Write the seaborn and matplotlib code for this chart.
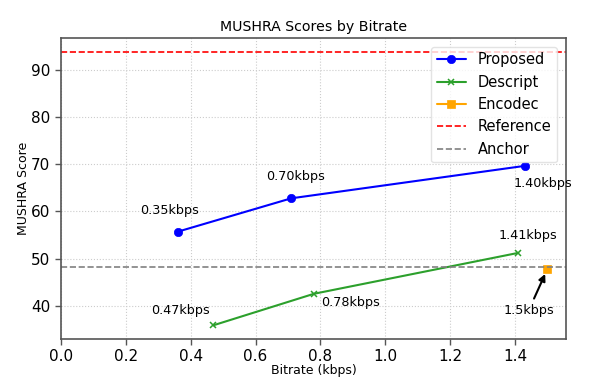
import matplotlib
matplotlib.use("Agg")
import matplotlib.pyplot as plt
import seaborn as sns
import pandas as pd

proposed_x = [0.36, 0.71, 1.43]
proposed_y = [55.7, 62.8, 69.7]
proposed_labels = ["0.35kbps", "0.70kbps", "1.40kbps"]

descript_x = [0.47, 0.78, 1.41]
descript_y = [35.8, 42.5, 51.2]
descript_labels = ["0.47kbps", "0.78kbps", "1.41kbps"]

encodec_x = [1.5]
encodec_y = [47.8]
encodec_labels = ["1.5kbps"]

reference_score = 94.0
anchor_score = 48.3

sns.set_style("white")
plt.rcParams['font.family'] = ['DejaVu Sans']
plt.rcParams['text.color'] = 'black'
plt.rcParams['axes.labelcolor'] = 'black'
plt.rcParams['xtick.color'] = 'black'
plt.rcParams['ytick.color'] = 'black'

fig = plt.figure(figsize=(5.97, 3.86), dpi=100)
ax = fig.add_axes([0.102, 0.1218, 0.846, 0.78])

df_p = pd.DataFrame({"x": proposed_x, "y": proposed_y})
df_d = pd.DataFrame({"x": descript_x, "y": descript_y})
df_e = pd.DataFrame({"x": encodec_x, "y": encodec_y})

sns.lineplot(data=df_p, x="x", y="y", ax=ax, color="blue", marker="o",
             markersize=6, markeredgecolor="blue", markeredgewidth=0.5,
             label="Proposed", lw=1.5, linestyle="-")
sns.lineplot(data=df_d, x="x", y="y", ax=ax, color="#2ca02c", marker="x",
             markersize=5, markeredgecolor="#2ca02c", markeredgewidth=1.1,
             label="Descript", lw=1.5, linestyle="-")
sns.lineplot(data=df_e, x="x", y="y", ax=ax, color="orange", marker="s",
             markersize=6, markeredgecolor="orange", markeredgewidth=0.5,
             label="Encodec", lw=1.5, linestyle="-")
ax.axhline(reference_score, color="red", ls="--", lw=1.2, label="Reference")
ax.axhline(anchor_score, color="gray", ls="--", lw=1.2, label="Anchor")

ax.set_xlim(left=0)

fs_ann = 9.2
offs_p = [(-8, 21), (4, 22), (18, -18)]
for x, y, t, o in zip(proposed_x, proposed_y, proposed_labels, offs_p):
    ax.annotate(t, (x, y), xytext=o, textcoords="offset pixels",
                ha="center", va="center", fontsize=fs_ann, color="black")
offs_d = [(-33, 15), (37, -9), (10, 17)]
for x, y, t, o in zip(descript_x, descript_y, descript_labels, offs_d):
    ax.annotate(t, (x, y), xytext=o, textcoords="offset pixels",
                ha="center", va="center", fontsize=fs_ann, color="black")
for x, y, t in zip(encodec_x, encodec_y, encodec_labels):
    ax.annotate(t, (x, y), xytext=(-19, -42), textcoords="offset pixels",
                ha="center", va="center", fontsize=fs_ann, color="black",
                arrowprops=dict(arrowstyle="-|>", color="black", lw=1.5,
                                shrinkA=2, shrinkB=4, mutation_scale=10))

ax.set_title("MUSHRA Scores by Bitrate", fontsize=10.2, color="black", pad=5)
ax.set_xlabel("Bitrate (kbps)", fontsize=9, labelpad=0)
ax.set_ylabel("MUSHRA Score", fontsize=9, labelpad=1)
ax.tick_params(axis="both", labelsize=11, length=4, width=1, color="#555555",
               labelcolor="black", left=True, bottom=True)
ax.grid(True, linestyle=":", color="#cccccc", lw=0.8)
for s in ax.spines.values():
    s.set_color("#555555")
    s.set_linewidth(1.2)

leg = ax.legend(loc="upper right", fontsize=10.5, framealpha=0.8,
                edgecolor="#dddddd", handlelength=2, borderaxespad=0.6)
for t in leg.get_texts():
    t.set_color("black")

fig.savefig("out.png", dpi=100)
